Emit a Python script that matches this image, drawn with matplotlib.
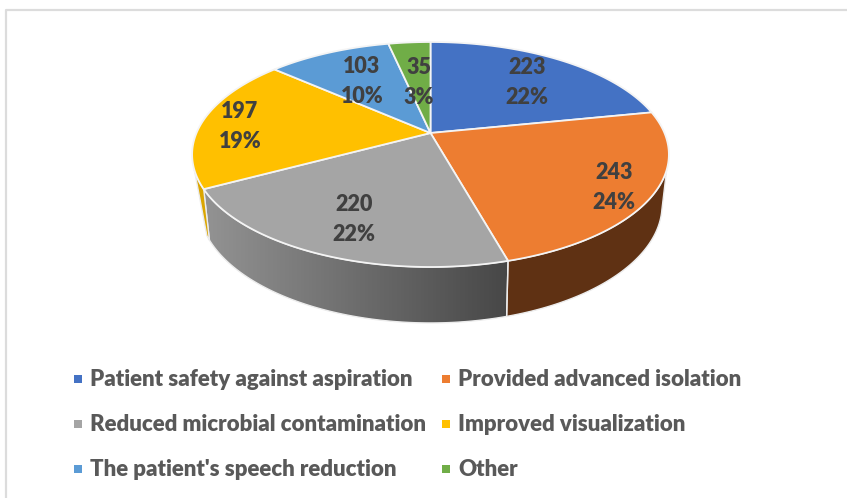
"""Perspective 3D pie with legend, drawn in pixel coordinates."""
import numpy as np
import matplotlib
matplotlib.use("Agg")
import matplotlib.pyplot as plt
from matplotlib.patches import Polygon, Rectangle

categories = ["Patient safety against aspiration", "Provided advanced isolation",
              "Reduced microbial contamination", "Improved visualization",
              "The patient's speech reduction", "Other"]
values = [223, 243, 220, 197, 103, 35]
colors = ["#4472C4", "#ED7D31", "#A5A5A5", "#FFC000", "#5B9BD5", "#70AD47"]
wall_colors = ["#2a4478", "#5F3113", None, "#DBA600", "#37618a", "#446a2b"]

W, H = 847, 498
CX = 430.5
TOP = dict(r=234.0, y0=133.0, b=108.4, k=0.191)      # top rim projection
BOT = dict(r=226.8, y0=181.1, b=113.2, k=0.202)      # bottom rim projection
TOP_LIMITS = (108.7, 251.3)   # part of the rim where the wall shows
BOT_LIMITS = (104.0, 244.0)

label_pos = [(527, 67), (614, 172), (354, 204), (240, 111), (362, 66), (419, 67)]
legend_pos = [(78, 379), (446, 379), (78, 424), (446, 424), (78, 469), (446, 469)]


def project(deg, p):
    """Clockwise angle from 12 o'clock to pixel position on a rim."""
    t = np.radians(deg)
    x, y = np.sin(t), -np.cos(t)
    d = 1 - p["k"] * y
    return CX + p["r"] * x / d, p["y0"] + p["b"] * y / d


def arc(a, b, p):
    ts = np.linspace(a, b, max(int(abs(b - a) * 2), 2))
    return np.column_stack(project(ts, p))


fig = plt.figure(figsize=(W / 100, H / 100), dpi=100, facecolor="white")
ax = fig.add_axes([0, 0, 1, 1])
ax.axis("off")

ax.plot([6, 6, W], [H, 10, 10], color="#dcdcdc", lw=1.6, zorder=1)

total = sum(values)
edges = np.concatenate([[0], np.cumsum(values)]) / total * 360

# side wall
for i in range(len(values)):
    ta = max(edges[i], TOP_LIMITS[0])
    tb = min(edges[i + 1], TOP_LIMITS[1])
    if ta >= tb:
        continue
    ba = max(edges[i], BOT_LIMITS[0])
    bb = min(edges[i + 1], BOT_LIMITS[1])
    pts = np.vstack([arc(ta, tb, TOP), arc(ba, bb, BOT)[::-1]])
    if wall_colors[i] is None:
        grad = np.linspace(0, 1, 256)[None, :]
        cmap = matplotlib.colors.LinearSegmentedColormap.from_list("wall", ["#939393", "#474747"])
        im = ax.imshow(grad, cmap=cmap, extent=(pts[:, 0].min(), pts[:, 0].max(), H, 0),
                       aspect="auto", zorder=2)
        im.set_clip_path(Polygon(pts, closed=True, transform=ax.transData))
        ax.add_patch(Polygon(pts, closed=True, fc="none", ec="#ececec", lw=1.0, zorder=3))
    else:
        ax.add_patch(Polygon(pts, closed=True, fc=wall_colors[i], ec="#ececec", lw=1.0, zorder=3))

# top face
centre = (CX, TOP["y0"])
for i, c in enumerate(colors):
    pts = np.vstack([[centre], arc(edges[i], edges[i + 1], TOP)])
    ax.add_patch(Polygon(pts, closed=True, fc=c, ec="#f4f4f4", lw=1.3, joinstyle="round", zorder=4))

# data labels
for v, (x, y) in zip(values, label_pos):
    ax.text(x, y, str(v), ha="center", va="center", fontsize=15.5, family="Lato",
            weight=800, color="#404040", zorder=5)
    ax.text(x, y + 30, f"{v / total * 100:.0f}%", ha="center", va="center", fontsize=15.5,
            family="Lato", weight=800, color="#404040", zorder=5)

# legend
for name, c, (x, y) in zip(categories, colors, legend_pos):
    ax.add_patch(Rectangle((x - 4, y - 4), 8, 8, fc=c, ec="none", zorder=5))
    ax.text(x + 12, y, name, ha="left", va="center", fontsize=16, family="Lato",
            weight=800, color="#595959", zorder=5)

ax.set_xlim(0, W)
ax.set_ylim(H, 0)
fig.savefig("out.png", dpi=100)
